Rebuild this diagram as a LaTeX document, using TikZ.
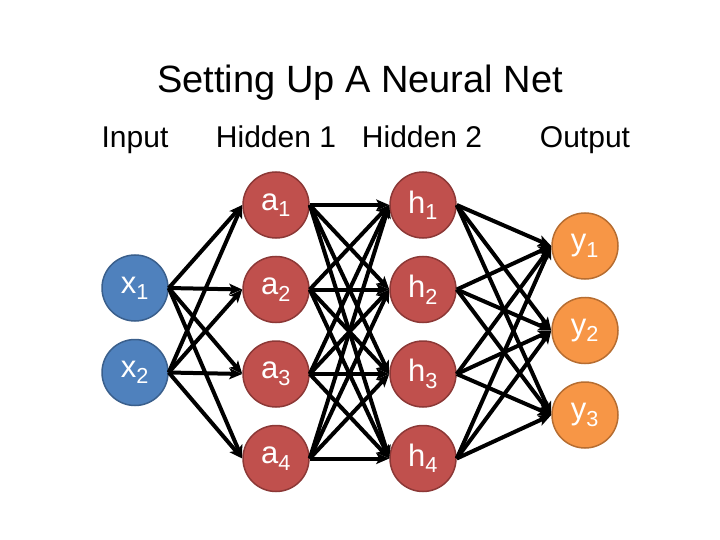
\documentclass[tikz,border=0pt]{standalone}
\usepackage{fontspec}
\setmainfont{Liberation Sans}
\usetikzlibrary{arrows.meta, positioning}
\definecolor{inblue}{HTML}{4F81BD}
\definecolor{inborder}{HTML}{3A5F8C}
\definecolor{hidred}{HTML}{C0504D}
\definecolor{hidborder}{HTML}{8C3836}
\definecolor{outorange}{HTML}{F79646}
\definecolor{outborder}{HTML}{B66D31}
\newcommand{\nsub}[1]{\textsubscript{#1}}

\begin{document}
\begin{tikzpicture}[x=1pt, y=-1pt, node distance=17pt, >={Stealth[length=13pt, width=11pt, inset=3pt]}]
    \tikzstyle{neuron} = [circle, minimum size=66pt, inner sep=0pt, line width=1.5pt, text=white, font=\fontsize{31}{31}\selectfont]
    \tikzstyle{inneuron} = [neuron, draw=inborder, fill=inblue]
    \tikzstyle{hidneuron} = [neuron, draw=hidborder, fill=hidred]
    \tikzstyle{outneuron} = [neuron, draw=outborder, fill=outorange]
    \tikzstyle{layerlabel} = [anchor=base, font=\fontsize{30}{30}\selectfont]
    \tikzstyle{link} = [draw, ->, line width=4pt, color=black]

    \useasboundingbox (0,0) rectangle (720,540);

    \node [anchor=base, font=\fontsize{38}{38}\selectfont] (title) at (360,93) {Setting Up A Neural Net};
    \node [layerlabel] (linput) at (135,148) {Input};
    \node [layerlabel] (lhid1) at (276,148) {Hidden 1};
    \node [layerlabel] (lhid2) at (422,148) {Hidden 2};
    \node [layerlabel] (loutput) at (585,148) {Output};

    \node [inneuron] (x1) at (135,288) {x\nsub{1}};
    \node [inneuron, below=of x1] (x2) {x\nsub{2}};

    \node [hidneuron] (a1) at (276,205) {a\nsub{1}};
    \node [hidneuron, below=of a1] (a2) {a\nsub{2}};
    \node [hidneuron, below=of a2] (a3) {a\nsub{3}};
    \node [hidneuron, below=of a3] (a4) {a\nsub{4}};

    \node [hidneuron] (h1) at (423,205) {h\nsub{1}};
    \node [hidneuron, below=of h1] (h2) {h\nsub{2}};
    \node [hidneuron, below=of h2] (h3) {h\nsub{3}};
    \node [hidneuron, below=of h3] (h4) {h\nsub{4}};

    \node [outneuron] (y1) at (585,246) {y\nsub{1}};
    \node [outneuron, below=of y1] (y2) {y\nsub{2}};
    \node [outneuron, below=of y2] (y3) {y\nsub{3}};

    \foreach \i in {1,2} \foreach \j in {1,...,4}
        \path [link] (x\i.east) -- (a\j.west);
    \foreach \i in {1,...,4} \foreach \j in {1,...,4}
        \path [link] (a\i.east) -- (h\j.west);
    \foreach \i in {1,...,4} \foreach \j in {1,2,3}
        \path [link] (h\i.east) -- (y\j.west);
\end{tikzpicture}
\end{document}
